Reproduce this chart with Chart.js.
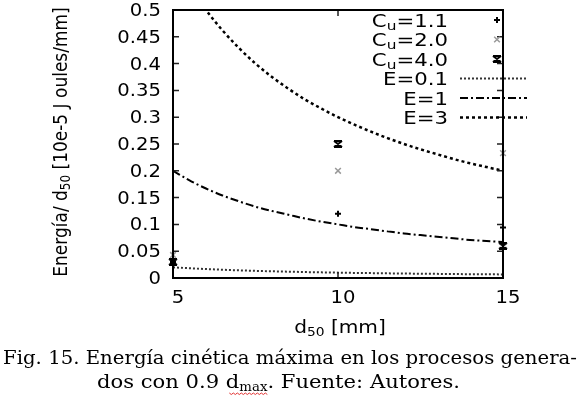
<!DOCTYPE html>
<html>
<head>
<meta charset="utf-8">
<script src="https://cdn.jsdelivr.net/npm/chart.js@4.4.0/dist/chart.umd.min.js"></script>
<style>
  html, body { margin: 0; padding: 0; background: #fff; }
  canvas { display: block; }
</style>
</head>
<body>
<canvas id="chart" width="580" height="397"></canvas>
<script>
// measured points (d50 in mm)
const d50 = [5, 10, 15];
const cu11 = [0.03, 0.12, 0.094];
const cu20 = [0.043, 0.2, 0.233];
const cu40 = [0.03, 0.25, 0.06];

// reference curves
const dCurve = [5, 5.5, 6, 6.5, 7, 7.5, 8, 8.5, 9, 9.5, 10, 10.5, 11, 11.5, 12, 12.5, 13, 13.5, 14, 14.5, 15];
const e01 = [0.020, 0.0182, 0.0167, 0.0154, 0.0143, 0.0133, 0.0125, 0.0118, 0.0111, 0.0105, 0.0100,
             0.0095, 0.0091, 0.0087, 0.0083, 0.0080, 0.0077, 0.0074, 0.0071, 0.0069, 0.0067];
const e1 = [0.200, 0.182, 0.167, 0.154, 0.143, 0.133, 0.125, 0.118, 0.111, 0.105, 0.100,
            0.095, 0.091, 0.087, 0.083, 0.080, 0.077, 0.074, 0.071, 0.069, 0.067];
const e3 = [0.600, 0.545, 0.500, 0.462, 0.429, 0.400, 0.375, 0.353, 0.333, 0.316, 0.300,
            0.286, 0.273, 0.261, 0.250, 0.240, 0.231, 0.222, 0.214, 0.207, 0.200];

const xTicks = [5, 10, 15];
const xTickLabels = ['5', '10', '15'];
const yTicks = [0, 0.05, 0.1, 0.15, 0.2, 0.25, 0.3, 0.35, 0.4, 0.45, 0.5];
const yTickLabels = ['0', '0.05', '0.1', '0.15', '0.2', '0.25', '0.3', '0.35', '0.4', '0.45', '0.5'];

const SANS = '"DejaVu Sans"';
const SERIF = '"DejaVu Serif"';

// gnuplot-like "*" seen small: looks like an hourglass
const hourglass = document.createElement('canvas');
hourglass.width = 10;
hourglass.height = 8;
(function () {
    const g = hourglass.getContext('2d');
    g.strokeStyle = '#000';
    g.lineWidth = 2;
    g.beginPath();
    g.moveTo(1, 1); g.lineTo(9, 1);
    g.moveTo(1, 7); g.lineTo(9, 7);
    g.moveTo(1, 1); g.lineTo(9, 7);
    g.moveTo(9, 1); g.lineTo(1, 7);
    g.stroke();
})();

function lineSet(label, values, color, dash, width) {
    return {
        label: label,
        data: dCurve.map((d, i) => ({ x: d, y: values[i] })),
        borderColor: color,
        borderDash: dash,
        borderWidth: width,
        pointRadius: 0,
        fill: false,
        cubicInterpolationMode: 'monotone'
    };
}

function pointSet(label, values, color, style, r, bw) {
    return {
        label: label,
        data: d50.map((d, i) => ({ x: d, y: values[i] })),
        showLine: false,
        pointStyle: style,
        pointRadius: r,
        pointBorderWidth: bw,
        borderColor: color,
        backgroundColor: color,
        clip: false
    };
}

// text made of runs (for subscripts), stretched a little sideways like the original
function drawRuns(ctx, parts, x, y, align, family, sx) {
    let w = 0;
    parts.forEach(p => { ctx.font = `${p.s}px ${family}`; w += ctx.measureText(p.t).width; });
    let cx = align === 'center' ? -w / 2 : (align === 'right' ? -w : 0);
    ctx.save();
    ctx.textAlign = 'left';
    ctx.textBaseline = 'alphabetic';
    ctx.translate(x, y);
    ctx.scale(sx, 1);
    const spots = [];
    parts.forEach(p => {
        ctx.font = `${p.s}px ${family}`;
        const pw = ctx.measureText(p.t).width;
        ctx.fillText(p.t, cx, p.dy || 0);
        spots.push({ x0: x + cx * sx, x1: x + (cx + pw) * sx });
        cx += pw;
    });
    ctx.restore();
    return spots;
}

function runsWidth(ctx, parts, family) {
    let w = 0;
    parts.forEach(p => { ctx.font = `${p.s}px ${family}`; w += ctx.measureText(p.t).width; });
    return w;
}

function marker(ctx, style, x, y, r, color, bw) {
    ctx.save();
    ctx.strokeStyle = color;
    ctx.lineWidth = bw;
    ctx.beginPath();
    if (style === 'cross') {
        ctx.moveTo(x - r, y); ctx.lineTo(x + r, y);
        ctx.moveTo(x, y - r); ctx.lineTo(x, y + r);
    }
    if (style === 'crossRot') {
        const k = r * 0.7071;
        ctx.moveTo(x - k, y - k); ctx.lineTo(x + k, y + k);
        ctx.moveTo(x - k, y + k); ctx.lineTo(x + k, y - k);
    }
    ctx.stroke();
    ctx.restore();
}

const overlay = {
    id: 'overlay',
    afterDraw(chart) {
        const ctx = chart.ctx;
        const a = chart.chartArea;
        const xs = chart.scales.x, ys = chart.scales.y;
        ctx.save();

        // inward ticks, mirrored
        ctx.strokeStyle = '#222';
        ctx.lineWidth = 1.5;
        ctx.beginPath();
        yTicks.forEach(v => {
            const py = ys.getPixelForValue(v);
            ctx.moveTo(a.left, py); ctx.lineTo(a.left + 6, py);
            ctx.moveTo(a.right - 6, py); ctx.lineTo(a.right, py);
        });
        xTicks.forEach(v => {
            const px = xs.getPixelForValue(v);
            ctx.moveTo(px, a.bottom); ctx.lineTo(px, a.bottom - 6);
            ctx.moveTo(px, a.top); ctx.lineTo(px, a.top + 6);
        });
        ctx.stroke();

        // frame
        ctx.strokeStyle = '#000';
        ctx.lineWidth = 2;
        ctx.strokeRect(a.left, a.top, a.right - a.left, a.bottom - a.top);

        ctx.fillStyle = '#000';
        // tick labels
        yTicks.forEach((v, i) => {
            drawRuns(ctx, [{ t: yTickLabels[i], s: 17.5 }], a.left - 12, ys.getPixelForValue(v) + 6, 'right', SANS, 1.12);
        });
        xTicks.forEach((v, i) => {
            drawRuns(ctx, [{ t: xTickLabels[i], s: 17.5 }], xs.getPixelForValue(v) + 5, 303, 'center', SANS, 1.12);
        });

        // axis titles
        drawRuns(ctx, [{ t: 'd', s: 17.5 }, { t: '50', s: 12, dy: 3 }, { t: ' [mm]', s: 17.5 }], 340, 333, 'center', SANS, 1.15);
        ctx.save();
        ctx.translate(67, 142);
        ctx.rotate(-Math.PI / 2);
        ctx.scale(1, 1.12);
        drawRuns(ctx, [{ t: 'Energía/ d', s: 17 }, { t: '50', s: 12, dy: 3 }, { t: ' [10e-5 J oules/mm]', s: 17 }], 0, 0, 'center', SANS, 1);
        ctx.restore();

        // legend
        const rows = [20, 39.5, 59, 78.5, 98, 117.5];
        const names = [
            [{ t: 'C', s: 18 }, { t: 'u', s: 13, dy: 3 }, { t: '=1.1', s: 18 }],
            [{ t: 'C', s: 18 }, { t: 'u', s: 13, dy: 3 }, { t: '=2.0', s: 18 }],
            [{ t: 'C', s: 18 }, { t: 'u', s: 13, dy: 3 }, { t: '=4.0', s: 18 }],
            [{ t: 'E=0.1', s: 18 }],
            [{ t: 'E=1', s: 18 }],
            [{ t: 'E=3', s: 18 }]
        ];
        names.forEach((n, i) => drawRuns(ctx, n, 448, rows[i] + 6.5, 'right', SANS, 1.18));
        marker(ctx, 'cross', 497, rows[0], 3, '#000', 2);
        marker(ctx, 'crossRot', 497, rows[1], 4, '#999', 1.5);
        ctx.drawImage(hourglass, 492, rows[2] - 4);
        const samples = [['#333', [2, 2], 2], ['#000', [8, 3, 2, 3], 2], ['#000', [3, 3], 2.5]];
        samples.forEach((s, i) => {
            ctx.strokeStyle = s[0];
            ctx.setLineDash(s[1]);
            ctx.lineWidth = s[2];
            ctx.beginPath();
            ctx.moveTo(460, rows[3 + i]);
            ctx.lineTo(527, rows[3 + i]);
            ctx.stroke();
        });
        ctx.setLineDash([]);

        // caption
        const line1 = [{ t: 'Fig. 15. Energía cinética máxima en los procesos genera-', s: 19 }];
        drawRuns(ctx, line1, 3, 364, 'left', SERIF, 574 / runsWidth(ctx, line1, SERIF));
        const line2 = [{ t: 'dos con 0.9 d', s: 19 }, { t: 'max', s: 12, dy: 3 }, { t: '. Fuente: Autores.', s: 19 }];
        const spots = drawRuns(ctx, line2, 97, 388, 'left', SERIF, 363 / runsWidth(ctx, line2, SERIF));

        // spell-check squiggle under "dmax"
        const sx0 = spots[0].x1 - 10, sx1 = spots[1].x1;
        ctx.strokeStyle = '#e03030';
        ctx.lineWidth = 1;
        ctx.beginPath();
        for (let x = sx0, k = 0; x <= sx1; x += 2, k++) {
            const yy = 393 + (k % 2 ? 1.5 : 0);
            if (k === 0) ctx.moveTo(x, yy); else ctx.lineTo(x, yy);
        }
        ctx.stroke();

        ctx.restore();
    }
};

new Chart(document.getElementById('chart'), {
    type: 'line',
    data: {
        datasets: [
            lineSet('E=0.1', e01, '#333', [2, 2], 2),
            lineSet('E=1', e1, '#000', [8, 3, 2, 3], 2),
            lineSet('E=3', e3, '#000', [3, 3], 2.5),
            pointSet('Cu=1.1', cu11, '#000', 'cross', 3, 2),
            pointSet('Cu=2.0', cu20, '#999', 'crossRot', 4, 1.5),
            pointSet('Cu=4.0', cu40, '#000', hourglass, 4, 1)
        ]
    },
    options: {
        responsive: false,
        devicePixelRatio: 1,
        animation: false,
        layout: { padding: { left: 173, right: 77, top: 10, bottom: 119 } },
        scales: {
            x: { type: 'linear', min: 5, max: 15, display: false },
            y: { type: 'linear', min: 0, max: 0.5, display: false }
        },
        plugins: {
            legend: { display: false },
            tooltip: { enabled: false }
        }
    },
    plugins: [overlay]
});
</script>
</body>
</html>
